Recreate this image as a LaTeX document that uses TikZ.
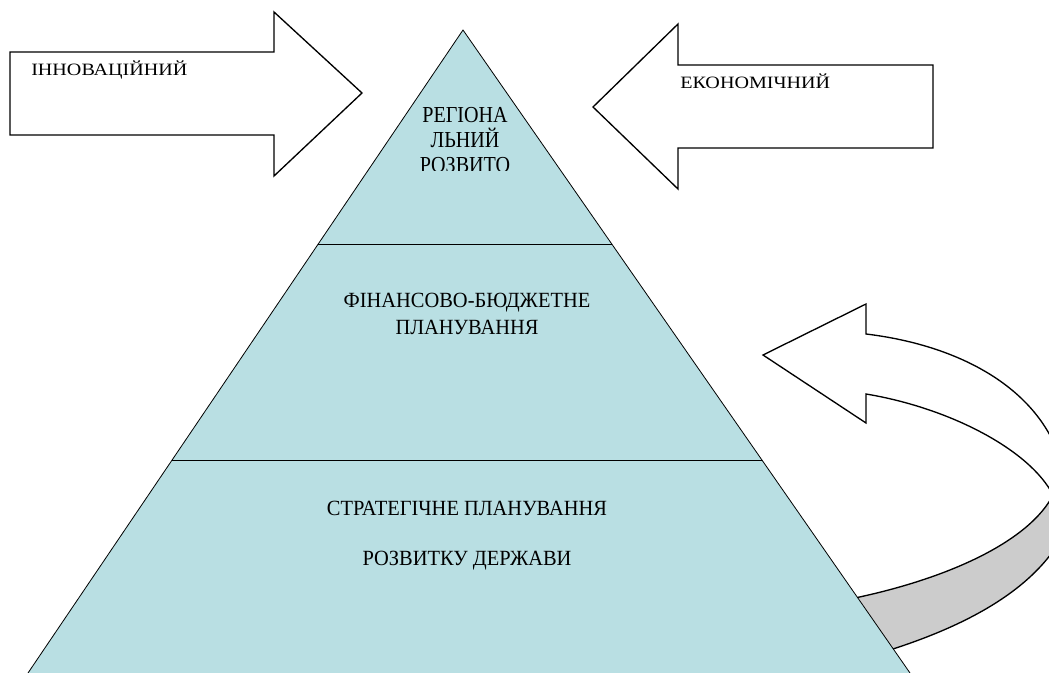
\documentclass[tikz,border=0pt]{standalone}
\usepackage{fontspec}
\setmainfont{Liberation Serif}
\usepackage{graphicx}
\usepackage{tikz}
\usetikzlibrary{calc}
\definecolor{pyrblue}{RGB}{185,223,227}
\definecolor{bandgray}{RGB}{204,204,204}
\newcommand{\widet}[1]{\scalebox{1.16}[1]{#1}}
\newcommand{\tallt}[1]{\scalebox{1.18}[1.25]{#1}}
\newcommand{\toptallt}[1]{\scalebox{1.16}[1.32]{#1}}

\begin{document}
\begin{tikzpicture}[x=0.75pt, y=-0.75pt,
		lbl/.style={inner sep=0pt, anchor=base, font=\fontsize{13}{15}\selectfont},
		blockarrow/.style={draw, line width=1pt, line join=miter},
		pyrline/.style={line width=0.6pt}]
		\useasboundingbox (0,0) rectangle (1049,673);
		\clip (0,0) rectangle (1049,673);
		\coordinate (T) at (463,30);
		\coordinate (L) at (28,673);
		\coordinate (R) at (910,673);
		\coordinate (L1) at ($(T)!0.3328!(L)$);
		\coordinate (R1) at ($(T)!0.3328!(R)$);
		\coordinate (L2) at ($(T)!0.6687!(L)$);
		\coordinate (R2) at ($(T)!0.6687!(R)$);
		\coordinate (Q) at (1053,495);
		\fill[bandgray] (Q) .. controls (1030,540) and (950,580) .. (840,601) -- (870,656) .. controls (960,630) and (1040,590) .. (1068,525) -- cycle;
		\draw[blockarrow] (840,601) .. controls (950,580) and (1030,540) .. (Q);
		\draw[blockarrow] (870,656) .. controls (960,630) and (1040,590) .. (1068,525);
		\draw[blockarrow, fill=white] (763,355) -- (866,304) -- (866,334) .. controls (965,346) and (1042,392) .. (1062,465) -- (Q) .. controls (1030,450) and (950,408) .. (866,394) -- (866,423) -- cycle;
		\fill[pyrblue] (T) -- (R) -- (L) -- cycle;
		\draw[pyrline] (L) -- (T) -- (R);
		\draw[pyrline] (L1) -- (R1);
		\draw[pyrline] (L2) -- (R2);
		\draw[blockarrow, fill=white] (10,52) -- (274,52) -- (274,12) -- (362,93) -- (274,176) -- (274,135) -- (10,135) -- cycle;
		\draw[blockarrow, fill=white] (593,107) -- (678,24) -- (678,65) -- (933,65) -- (933,148) -- (678,148) -- (678,189) -- cycle;
		\node[lbl, anchor=base west] (innov) at (31,76) {\widet{ІННОВАЦІЙНИЙ}};
		\node[lbl, anchor=base west] (econ) at (680,89) {\widet{ЕКОНОМІЧНИЙ}};
		\node[lbl] (reg1) at (465,123) {\toptallt{РЕГІОНА}};
		\node[lbl] (reg2) at (465,148) {\toptallt{ЛЬНИЙ}};
		\begin{scope}
			\clip (380,100) rectangle (550,171);
			\node[lbl] (reg3) at (465,173) {\toptallt{РОЗВИТО}};
		\end{scope}
		\node[lbl] (fin1) at (467,308) {\tallt{ФІНАНСОВО-БЮДЖЕТНЕ}};
		\node[lbl] (fin2) at (467,335) {\tallt{ПЛАНУВАННЯ}};
		\node[lbl] (str1) at (467,515) {\tallt{СТРАТЕГІЧНЕ ПЛАНУВАННЯ}};
		\node[lbl] (str2) at (467,565) {\tallt{РОЗВИТКУ ДЕРЖАВИ}};
	\end{tikzpicture}
\end{document}
